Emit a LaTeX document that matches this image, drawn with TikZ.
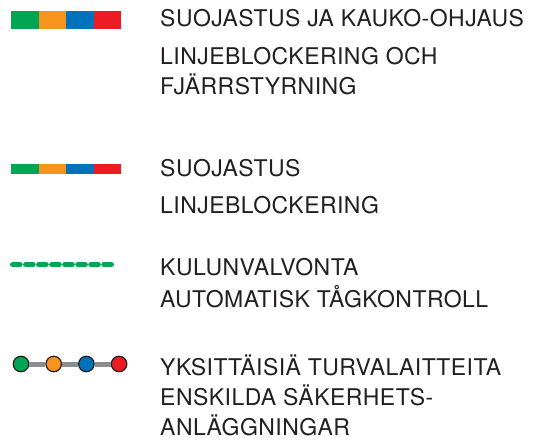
\documentclass[tikz,border=0pt]{standalone}
\usepackage{fontspec}
\setmainfont{TeX Gyre Heros}[LetterSpace=2]
\usepackage{tikz}
\definecolor{segGreen}{HTML}{00A651}
\definecolor{segOrange}{HTML}{F7941D}
\definecolor{segBlue}{HTML}{0072BC}
\definecolor{segRed}{HTML}{ED1C24}
\definecolor{railGray}{HTML}{8A8C8E}
\definecolor{inkDark}{HTML}{231F20}
\tikzset{
  legtext/.style = {anchor=base west, inner sep=0pt, align=left, text=inkDark,
                    font=\fontsize{23}{30.3}\selectfont},
  swatch/.style = {rectangle, inner sep=0pt, minimum width=27.5pt, anchor=west},
  thickbar/.style = {swatch, minimum height=18pt},
  thinbar/.style = {swatch, minimum height=10.5pt},
  dot/.style = {circle, draw=inkDark, line width=1.2pt, inner sep=0pt, minimum size=15.5pt},
  rail/.style = {railGray, line width=5pt},
  atpline/.style = {segGreen, line width=5.5pt, line cap=round, dash pattern=on 7.2pt off 5.84pt},
}

\begin{document}
\begin{tikzpicture}[x=1pt, y=-1pt]
\useasboundingbox (0,0) rectangle (533,447);
% full bar: blocking and remote control
\foreach \c [count=\i] in {segGreen,segOrange,segBlue,segRed}
  \node [thickbar, fill=\c] (a\i) at ({11+27.5*(\i-1)},20) {};
% thin bar: blocking only
\foreach \c [count=\i] in {segGreen,segOrange,segBlue,segRed}
  \node [thinbar, fill=\c] (b\i) at ({11+27.5*(\i-1)},169) {};
% ATP line
\coordinate (atpS) at (12.75,264.5);
\coordinate (atpE) at (111.3,264.5);
\draw [atpline] (atpS) -- (atpE);
% single devices
\foreach \c [count=\i] in {segGreen,segOrange,segBlue,segRed}
  \node [dot, fill=\c] (d\i) at ({21+32.7*(\i-1)},364) {};
\foreach \i/\j in {1/2,2/3,3/4}
  \draw [rail] (d\i) -- (d\j);

% two-line labels sit on the baseline of their last line
\node [legtext] (fiA) at (160,26.7) {SUOJASTUS JA KAUKO-OHJAUS};
\node [legtext] (svA) at (160,94.3) {LINJEBLOCKERING OCH\\FJÄRRSTYRNING};
\node [legtext] (fiB) at (160,176) {SUOJASTUS};
\node [legtext] (svB) at (160,213.3) {LINJEBLOCKERING};
\node [legtext] (fiC) at (160,275) {KULUNVALVONTA};
\node [legtext] (svC) at (160,307.3) {AUTOMATISK TÅGKONTROLL};
\node [legtext] (fiD) at (160,375) {YKSITTÄISIÄ TURVALAITTEITA};
\node [legtext] (svD) at (160,435.7) {ENSKILDA SÄKERHETS-\\ANLÄGGNINGAR};
\end{tikzpicture}
\end{document}
